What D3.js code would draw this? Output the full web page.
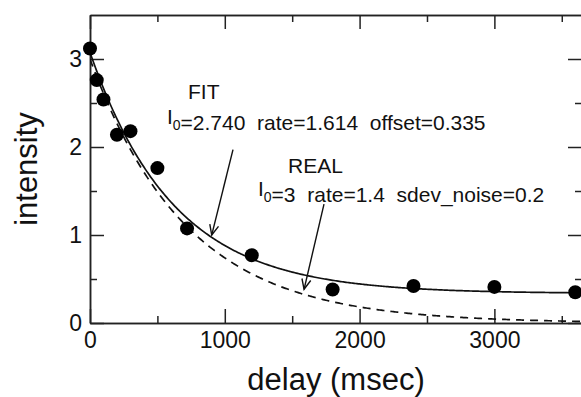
<!DOCTYPE html>
<html>
<head>
<meta charset="utf-8">
<script src="https://cdn.jsdelivr.net/npm/d3@7"></script>
<style>
  html, body { margin: 0; padding: 0; background: #fff; }
  svg { display: block; }
  text { font-family: "Liberation Sans", Arial, Helvetica, sans-serif; fill: #111; white-space: pre; }
  .axis path, .axis line { stroke: #222; stroke-width: 1.5; }
</style>
</head>
<body>
<figure id="plot" style="margin:0"></figure>
<script>
// measured points (delay in msec, intensity)
const delays = [0, 50, 100, 200, 300, 500, 720, 1200, 1800, 2400, 3000, 3600];
const intensities = [3.12, 2.76, 2.54, 2.14, 2.18, 1.76, 1.075, 0.77, 0.38, 0.42, 0.41, 0.35];

// model parameters written on the chart
const fitParams = { I0: 2.740, rate: 1.614, offset: 0.335 };
const realParams = { I0: 3, rate: 1.4, offset: 0 };

const xMajorTicks = [0, 1000, 2000, 3000];
const xMinorTicks = [500, 1500, 2500, 3500];
const yMajorTicks = [0, 1, 2, 3];
const yMinorTicks = [0.5, 1.5, 2.5];

const width = 581, height = 397;
const margin = {top: 15, right: -1, bottom: 74, left: 90};
const innerW = width - margin.left - margin.right;
const innerH = height - margin.top - margin.bottom;

const x = d3.scaleLinear().domain([0, 3650]).range([0, innerW]);
const y = d3.scaleLinear().domain([0, 3.5]).range([innerH, 0]);

const svg = d3.select('figure#plot')
  .append('svg')
  .attr('width', width)
  .attr('height', height)
  .style('overflow', 'hidden');

const g = svg.append('g')
  .attr('transform', 'translate(' + margin.left + ',' + margin.top + ')');

// ---------------------------------------------------------------
// axes: ticks inward on all four sides
function drawAxis(axis, transform, labels) {
  const a = g.append('g')
    .attr('class', 'axis')
    .attr('transform', transform)
    .call(axis);
  if (!labels) a.selectAll('text').remove();
  return a;
}

drawAxis(d3.axisBottom(x).tickValues(xMajorTicks).tickSize(-14).tickSizeOuter(0).tickPadding(9)
  .tickFormat(d3.format('d')), 'translate(0,' + innerH + ')', true)
  .selectAll('text').attr('font-size', '23px');
drawAxis(d3.axisBottom(x).tickValues(xMinorTicks).tickSize(-7).tickSizeOuter(0), 'translate(0,' + innerH + ')', false);
drawAxis(d3.axisTop(x).tickValues(xMajorTicks).tickSize(-14).tickSizeOuter(0), 'translate(0,0)', false);
drawAxis(d3.axisTop(x).tickValues(xMinorTicks).tickSize(-7).tickSizeOuter(0), 'translate(0,0)', false);

drawAxis(d3.axisLeft(y).tickValues(yMajorTicks).tickSize(-14).tickSizeOuter(0).tickPadding(8)
  .tickFormat(d3.format('d')), 'translate(0,0)', true)
  .selectAll('text').attr('font-size', '23px');
drawAxis(d3.axisLeft(y).tickValues(yMinorTicks).tickSize(-7).tickSizeOuter(0), 'translate(0,0)', false);
drawAxis(d3.axisRight(y).tickValues(yMajorTicks).tickSize(-14).tickSizeOuter(0), 'translate(' + innerW + ',0)', false);
drawAxis(d3.axisRight(y).tickValues(yMinorTicks).tickSize(-7).tickSizeOuter(0), 'translate(' + innerW + ',0)', false);

g.selectAll('.axis text').attr('fill', '#111').attr('font-family', null);

// axis titles
svg.append('text')
  .attr('x', margin.left + innerW / 2)
  .attr('y', 390)
  .attr('text-anchor', 'middle')
  .attr('font-size', '31px')
  .text('delay (msec)');

svg.append('text')
  .attr('transform', 'translate(37,' + (margin.top + innerH / 2) + ') rotate(-90)')
  .attr('text-anchor', 'middle')
  .attr('font-size', '31px')
  .text('intensity');

// ---------------------------------------------------------------
// curves from the stated parameters
svg.append('defs').append('clipPath').attr('id', 'clip')
  .append('rect').attr('width', innerW).attr('height', innerH);

const model = p => t => p.I0 * Math.exp(-p.rate * t / 1000) + p.offset;
const tGrid = d3.range(0, 3650 + 1, 10);
const line = d3.line().x(d => x(d[0])).y(d => y(d[1]));

const curves = g.append('g').attr('clip-path', 'url(#clip)');
const fitFn = model(fitParams), realFn = model(realParams);

curves.append('path')
  .attr('d', line(tGrid.map(t => [t, realFn(t)])))
  .attr('fill', 'none')
  .attr('stroke', '#111')
  .attr('stroke-width', 1.7)
  .attr('stroke-dasharray', '8,6');

curves.append('path')
  .attr('d', line(tGrid.map(t => [t, fitFn(t)])))
  .attr('fill', 'none')
  .attr('stroke', '#111')
  .attr('stroke-width', 1.7);

// points
g.append('g').selectAll('circle')
  .data(delays.map((d, i) => ({t: d, v: intensities[i]})))
  .enter().append('circle')
  .attr('cx', d => x(d.t))
  .attr('cy', d => y(d.v))
  .attr('r', 7)
  .attr('fill', '#000');

// ---------------------------------------------------------------
// annotations
const arrows = [
  {from: [1061, 1.97], to: [903, 1.0]},
  {from: [1736, 1.35], to: [1588, 0.383]}
];

arrows.forEach(a => {
  const x1 = x(a.from[0]), y1 = y(a.from[1]), x2 = x(a.to[0]), y2 = y(a.to[1]);
  const ang = Math.atan2(y2 - y1, x2 - x1);
  const len = 11, spread = 0.42;
  g.append('line')
    .attr('x1', x1).attr('y1', y1).attr('x2', x2).attr('y2', y2)
    .attr('stroke', '#111').attr('stroke-width', 1.4);
  g.append('path')
    .attr('d', d3.line()([
      [x2 - len * Math.cos(ang - spread), y2 - len * Math.sin(ang - spread)],
      [x2, y2],
      [x2 - len * Math.cos(ang + spread), y2 - len * Math.sin(ang + spread)]
    ]))
    .attr('fill', 'none').attr('stroke', '#111').attr('stroke-width', 1.4);
});

function label(t, v, parts) {
  const txt = g.append('text')
    .attr('x', x(t)).attr('y', y(v))
    .attr('font-size', '21px');
  parts.forEach(p => {
    if (p.sub) {
      txt.append('tspan').attr('font-size', '14px').attr('dy', 6).text(p.sub);
      txt.append('tspan').attr('dy', -6).text('');
    } else {
      txt.append('tspan').text(p.s);
    }
  });
}

label(727, 2.545, [{s: 'FIT'}]);
label(571, 2.26, [{s: 'I'}, {sub: '0'}, {s: '=2.740  rate=1.614  offset=0.335'}]);
label(1469, 1.705, [{s: 'REAL'}]);
label(1246, 1.443, [{s: 'I'}, {sub: '0'}, {s: '=3  rate=1.4  sdev_noise=0.2'}]);
</script>
</body>
</html>
